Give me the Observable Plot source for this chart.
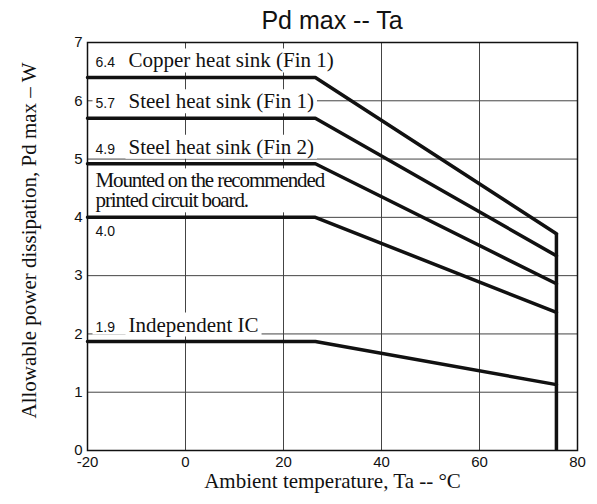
<!DOCTYPE html>
<html><head><meta charset="utf-8">
<script src="https://cdn.jsdelivr.net/npm/d3@7"></script>
<script src="https://cdn.jsdelivr.net/npm/@observablehq/plot@0.6"></script>
<style>
body{margin:0;background:#fff;}
#title{box-sizing:border-box;width:597px;height:34px;padding-left:67px;padding-top:8px;text-align:center;font-family:"Liberation Sans",Arial,sans-serif;font-size:25px;line-height:24px;color:#111;}
</style></head><body>
<div id="title"></div>
<div id="chart"></div>
<script>
// ---- data ----
const seriesNames = ["Copper heat sink (Fin 1)", "Steel heat sink (Fin 1)", "Steel heat sink (Fin 2)", "Mounted on the recommended\nprinted circuit board.", "Independent IC"];
const valueLabels = ["6.4", "5.7", "4.9", "4.0", "1.9"];
const flatValues = [6.4, 5.7, 4.92, 4.0, 1.87];
const endValues = [3.72, 3.34, 2.86, 2.37, 1.13];
const startTemp = -20;
const kneeTemp = 26.5;
const endTemp = 75.7;
const xTicks = [-20, 0, 20, 40, 60, 80];
const yTicks = [0, 1, 2, 3, 4, 5, 6, 7];
const xGrid = [0, 20, 40, 60];
const yGrid = [1, 2, 3, 4, 5, 6];
const title = "Pd max -- Ta";
const xLabel = "Ambient temperature, Ta -- °C";
const yLabel = "Allowable power dissipation, Pd max – W";

document.getElementById("title").textContent = title;

// ---- build table ----
const pts = [];
seriesNames.forEach((s, i) => {
  pts.push({s, t: startTemp, p: flatValues[i]});
  pts.push({s, t: kneeTemp, p: flatValues[i]});
  pts.push({s, t: endTemp, p: endValues[i]});
});
const labels = seriesNames.map((s, i) => ({s, v: valueLabels[i], t: startTemp, p: flatValues[i], i}));
const above = labels.filter(d => d.i !== 3);
const pcb = labels.filter(d => d.i === 3);

const sans = "'Liberation Sans', Arial, sans-serif";
const serif = "'Liberation Serif', 'Times New Roman', serif";

const chart = Plot.plot({
  width: 597, height: 470,
  marginTop: 8, marginBottom: 54, marginLeft: 87, marginRight: 20,
  style: {background: "white", color: "#111"},
  x: {domain: [-20, 80]},
  y: {domain: [0, 7]},
  marks: [
    Plot.gridX(xGrid, {stroke: "#444", strokeOpacity: 1, strokeWidth: 1}),
    Plot.gridY(yGrid, {stroke: "#444", strokeOpacity: 1, strokeWidth: 1}),
    Plot.axisX({ticks: xTicks, tickSize: 0, tickPadding: 6, fontSize: 15, fontFamily: sans, label: null, tickFormat: d => String(d)}),
    Plot.axisY({ticks: yTicks, tickSize: 0, tickPadding: 5, fontSize: 15, fontFamily: sans, label: null, tickFormat: d => String(d)}),
    Plot.text(above, {x: "t", y: "p", text: "s", dx: 41, dy: -10, textAnchor: "start", lineAnchor: "bottom", fontFamily: serif, fontSize: 21, fill: "#111", className: "boxed"}),
    Plot.text(above, {x: "t", y: "p", text: "v", dx: 8, dy: -10, textAnchor: "start", lineAnchor: "bottom", fontFamily: sans, fontSize: 14, fill: "#111", className: "boxed joined"}),
    Plot.text(pcb, {x: "t", y: "p", text: "s", dx: 8, dy: -10, textAnchor: "start", lineAnchor: "bottom", lineHeight: 0.95, fontFamily: serif, fontSize: 21, fill: "#111", className: "boxed condensed"}),
    Plot.text(pcb, {x: "t", y: "p", text: "v", dx: 8, dy: 19, textAnchor: "start", lineAnchor: "bottom", fontFamily: sans, fontSize: 14, fill: "#111", className: "boxed"}),
    Plot.frame({stroke: "#111", strokeWidth: 1.5}),
    Plot.line(pts, {x: "t", y: "p", z: "s", stroke: "#111", strokeWidth: 3.5, strokeLinejoin: "miter"}),
    Plot.ruleX([endTemp], {y1: 0, y2: endValues[0], stroke: "#111", strokeWidth: 3.5}),
    Plot.text([xLabel], {frameAnchor: "bottom", dy: 37, lineAnchor: "bottom", fontFamily: serif, fontSize: 21, fill: "#111"}),
    Plot.text([yLabel], {frameAnchor: "left", dx: -52, dy: -6, rotate: -90, textAnchor: "middle", lineAnchor: "bottom", fontFamily: serif, fontSize: 21, fill: "#111"})
  ]
});
const svg = d3.select(chart);
svg.selectAll("g.condensed text").style("letter-spacing", "-1.1px");
document.getElementById("chart").appendChild(chart);

// white boxes behind the in-plot labels (measured from the rendered text)
const svgRect = chart.getBoundingClientRect();
const boxes = [];
svg.selectAll("g.boxed").each(function () {
  const extra = this.classList.contains("joined") ? 12 : 3;
  d3.select(this).selectAll("text").each(function () {
    const r = this.getBoundingClientRect();
    boxes.push({x: r.left - svgRect.left - 3, y: r.top - svgRect.top, w: r.width + 3 + extra, h: r.height});
  });
});
const firstLabel = chart.querySelector("g.boxed");
const layer = document.createElementNS("http://www.w3.org/2000/svg", "g");
chart.insertBefore(layer, firstLabel);
d3.select(layer).selectAll("rect").data(boxes).join("rect")
  .attr("x", d => d.x).attr("y", d => d.y).attr("width", d => d.w).attr("height", d => d.h)
  .attr("fill", "white");
</script>
</body></html>
